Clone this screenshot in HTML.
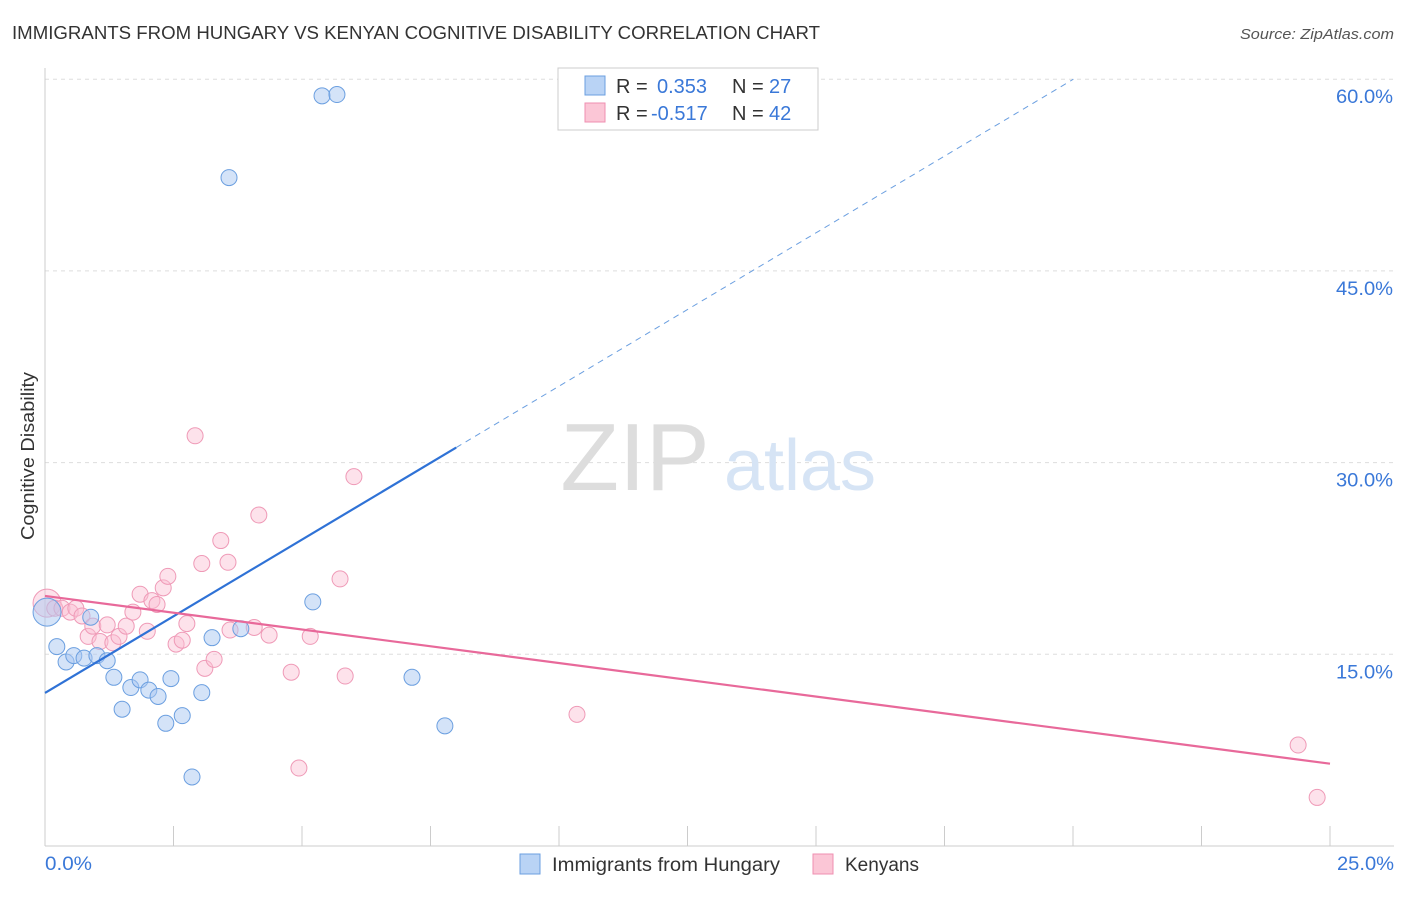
<!DOCTYPE html>
<html><head><meta charset="utf-8"><style>
body{margin:0;background:#fff;font-family:"Liberation Sans",sans-serif;}
svg text{font-family:"Liberation Sans",sans-serif;}
</style></head><body>
<svg id="chart" width="1406" height="892">
<text x="12" y="39" font-size="18" fill="#333" textLength="808" lengthAdjust="spacingAndGlyphs">IMMIGRANTS FROM HUNGARY VS KENYAN COGNITIVE DISABILITY CORRELATION CHART</text>
<text x="1240" y="39" font-size="15" fill="#555" font-style="italic" textLength="154" lengthAdjust="spacingAndGlyphs">Source: ZipAtlas.com</text>
<text transform="translate(34,456) rotate(-90)" font-size="18" fill="#333" text-anchor="middle" textLength="168" lengthAdjust="spacingAndGlyphs">Cognitive Disability</text>
<g id="grid"></g>
<text x="635" y="490" font-size="96" fill="#ddd" font-family="Liberation Serif" text-anchor="middle">ZIP</text>
<text x="800" y="490" font-size="72" fill="#d6e4f5" text-anchor="middle">atlas</text>
<g id="pts"></g>
<g id="lines"></g>
<g font-size="20">
<rect x="558" y="68" width="260" height="62" fill="#fff" stroke="#ccc"/>
<rect x="585" y="76" width="20" height="19" fill="#b9d3f5" stroke="#6b9fe0"/>
<rect x="585" y="103" width="20" height="19" fill="#fbc6d6" stroke="#ef8fb0"/>
<text x="616" y="93" fill="#333">R =</text><text x="657" y="93" fill="#3a78d8">0.353</text>
<text x="732" y="93" fill="#333">N =</text><text x="769" y="93" fill="#3a78d8">27</text>
<text x="616" y="120" fill="#333">R =</text><text x="651" y="120" fill="#3a78d8">-0.517</text>
<text x="732" y="120" fill="#333">N =</text><text x="769" y="120" fill="#3a78d8">42</text>
</g>
<g>
<rect x="520" y="854" width="20" height="20" fill="#b9d3f5" stroke="#6b9fe0"/>
<text x="552" y="871" font-size="19" fill="#333" textLength="228" lengthAdjust="spacingAndGlyphs">Immigrants from Hungary</text>
<rect x="813" y="854" width="20" height="20" fill="#fbc6d6" stroke="#ef8fb0"/>
<text x="845" y="871" font-size="19" fill="#333" textLength="74" lengthAdjust="spacingAndGlyphs">Kenyans</text>
</g>
</svg>
<script>
const hunX=[5.39,5.68,3.58,0.04,0.23,0.41,0.56,0.76,0.89,1.01,1.21,1.34,1.50,1.67,1.85,2.02,2.20,2.35,2.45,2.67,2.86,3.05,3.25,3.81,5.21,7.14,7.78];
const hunY=[58.7,58.8,52.3,18.3,15.6,14.4,14.9,14.7,17.9,14.9,14.5,13.2,10.7,12.4,13.0,12.2,11.7,9.6,13.1,10.2,5.4,12.0,16.3,17.0,19.1,13.2,9.4];
const kenX=[0.04,0.19,0.33,0.49,0.60,0.72,0.84,0.93,1.07,1.21,1.32,1.44,1.58,1.71,1.85,1.99,2.08,2.18,2.30,2.39,2.55,2.67,2.76,2.92,3.05,3.11,3.29,3.42,3.56,3.60,4.07,4.16,4.36,4.79,4.94,5.16,5.74,5.84,6.01,10.35,24.38,24.75];
const kenY=[19.0,18.6,18.6,18.3,18.6,18.0,16.4,17.2,16.0,17.3,15.9,16.4,17.2,18.3,19.7,16.8,19.2,18.9,20.2,21.1,15.8,16.1,17.4,32.1,22.1,13.9,14.6,23.9,22.2,16.9,17.1,25.9,16.5,13.6,6.1,16.4,20.9,13.3,28.9,10.3,7.9,3.8];
const xTicks=[0,2.5,5,7.5,10,12.5,15,17.5,20,22.5,25];
const yTicks=[15,30,45,60];
const yTickLabels=["15.0%","30.0%","45.0%","60.0%"];
const xs=v=>45+v/25*1285, ys=v=>846-v*12.78;
const NS="http://www.w3.org/2000/svg";
function mk(t,a,p){const e=document.createElementNS(NS,t);for(const k in a)e.setAttribute(k,a[k]);p.appendChild(e);return e;}
const g=document.getElementById('grid');
yTicks.forEach((v,i)=>{
 const l=mk('line',{x1:45,x2:1394,y1:ys(v),y2:ys(v),stroke:'#ddd','stroke-dasharray':'4,4'},g);
 
 
 const t=mk('text',{x:1393,y:ys(v)+24,'font-size':19,fill:'#3a78d8','text-anchor':'end',textLength:57,lengthAdjust:'spacingAndGlyphs'},g);t.textContent=yTickLabels[i];
 
 
});
mk('line',{x1:45,x2:45,y1:68,y2:846,stroke:'#ccc'},g);
mk('line',{x1:45,x2:1394,y1:846,y2:846,stroke:'#ccc'},g);
xTicks.forEach(v=>{const l=mk('line',{x1:xs(v),x2:xs(v),y1:826,y2:846,stroke:'#ccc'},g);
 
 });
let t=mk('text',{x:45,y:870,'font-size':19,fill:'#3a78d8',textLength:47,lengthAdjust:'spacingAndGlyphs'},g);t.textContent='0.0%';


t=mk('text',{x:1337,y:870,'font-size':19,fill:'#3a78d8',textLength:57,lengthAdjust:'spacingAndGlyphs'},g);t.textContent='25.0%';


const p=document.getElementById('pts');
kenX.forEach((x,i)=>{const c=mk('circle',{cx:xs(x),cy:ys(kenY[i]),r:i==0?14:8,fill:'rgba(251,190,210,0.45)',stroke:'#ef9ab7','stroke-width':1},p);
 
 });
hunX.forEach((x,i)=>{const c=mk('circle',{cx:xs(x),cy:ys(hunY[i]),r:i==3?14:8,fill:'rgba(170,200,242,0.5)',stroke:'#6b9fe0','stroke-width':1},p);
 
 });
function fit(X,Y){const n=X.length,mx=X.reduce((a,b)=>a+b)/n,my=Y.reduce((a,b)=>a+b)/n;let sxy=0,sxx=0;X.forEach((x,i)=>{sxy+=(x-mx)*(Y[i]-my);sxx+=(x-mx)**2});const b=sxy/sxx;return [my-b*mx,b];}
const L=document.getElementById('lines');
const [ha,hb]=fit(hunX,hunY);
let l=mk('line',{x1:xs(0),y1:ys(ha),x2:xs(8),y2:ys(ha+hb*8),stroke:'#2f72d6','stroke-width':2.2},L);


const xe=(60-ha)/hb;
l=mk('line',{x1:xs(8),y1:ys(ha+hb*8),x2:xs(xe),y2:ys(60),stroke:'#6b9fe0','stroke-width':1,'stroke-dasharray':'6,5'},L);


const [ka,kb]=fit(kenX,kenY);
l=mk('line',{x1:xs(0),y1:ys(ka),x2:xs(25),y2:ys(ka+kb*25),stroke:'#e8699a','stroke-width':2.2},L);


</script>
</body></html>
